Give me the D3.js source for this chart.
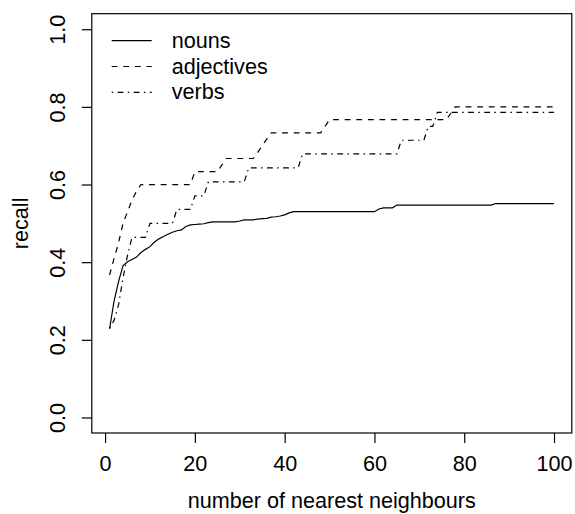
<!DOCTYPE html>
<html>
<head>
<meta charset="utf-8">
<script src="https://cdn.jsdelivr.net/npm/d3@7"></script>
<style>
  html, body { margin: 0; padding: 0; background: #fff; }
  svg { display: block; font-family: "Liberation Sans", Arial, Helvetica, sans-serif; }
</style>
</head>
<body>
<div id="chart"></div>
<script>
// recall vs number of nearest neighbours, k = 1..100
const kValues = d3.range(1, 101);

const nouns = [
  0.228, 0.300, 0.350, 0.391, 0.401, 0.407, 0.413, 0.425, 0.433, 0.440,
  0.452, 0.460, 0.466, 0.472, 0.477, 0.481, 0.483, 0.492, 0.496, 0.497,
  0.498, 0.499, 0.502, 0.504, 0.504, 0.504, 0.504, 0.504, 0.504, 0.506,
  0.509, 0.509, 0.509, 0.511, 0.512, 0.513, 0.516, 0.517, 0.519, 0.522,
  0.527, 0.530, 0.530, 0.530, 0.530, 0.530, 0.530, 0.530, 0.530, 0.530,
  0.530, 0.530, 0.530, 0.530, 0.530, 0.530, 0.530, 0.530, 0.530, 0.530,
  0.537, 0.540, 0.540, 0.540, 0.547, 0.547, 0.547, 0.547, 0.547, 0.547,
  0.547, 0.547, 0.547, 0.547, 0.547, 0.547, 0.547, 0.547, 0.547, 0.547,
  0.547, 0.547, 0.547, 0.547, 0.547, 0.547, 0.551, 0.551, 0.551, 0.551,
  0.551, 0.551, 0.551, 0.551, 0.551, 0.551, 0.551, 0.551, 0.551, 0.551
];

const adjectives = [
  0.367, 0.410, 0.450, 0.500, 0.530, 0.560, 0.583, 0.600, 0.600, 0.600,
  0.600, 0.600, 0.600, 0.600, 0.600, 0.600, 0.600, 0.600, 0.600, 0.633,
  0.633, 0.633, 0.633, 0.633, 0.633, 0.650, 0.667, 0.667, 0.667, 0.667,
  0.667, 0.667, 0.667, 0.683, 0.700, 0.717, 0.733, 0.733, 0.733, 0.733,
  0.733, 0.733, 0.733, 0.733, 0.733, 0.733, 0.733, 0.733, 0.750, 0.767,
  0.767, 0.767, 0.767, 0.767, 0.767, 0.767, 0.767, 0.767, 0.767, 0.767,
  0.767, 0.767, 0.767, 0.767, 0.767, 0.767, 0.767, 0.767, 0.767, 0.767,
  0.767, 0.767, 0.767, 0.767, 0.767, 0.767, 0.783, 0.800, 0.800, 0.800,
  0.800, 0.800, 0.800, 0.800, 0.800, 0.800, 0.800, 0.800, 0.800, 0.800,
  0.800, 0.800, 0.800, 0.800, 0.800, 0.800, 0.800, 0.800, 0.800, 0.800
];

const verbs = [
  0.230, 0.250, 0.290, 0.360, 0.418, 0.464, 0.464, 0.464, 0.464, 0.500,
  0.500, 0.500, 0.500, 0.500, 0.500, 0.536, 0.536, 0.536, 0.536, 0.571,
  0.571, 0.571, 0.607, 0.607, 0.607, 0.607, 0.607, 0.607, 0.607, 0.607,
  0.607, 0.643, 0.643, 0.643, 0.643, 0.643, 0.643, 0.643, 0.643, 0.643,
  0.643, 0.643, 0.643, 0.679, 0.679, 0.679, 0.679, 0.679, 0.679, 0.679,
  0.679, 0.679, 0.679, 0.679, 0.679, 0.679, 0.679, 0.679, 0.679, 0.679,
  0.679, 0.679, 0.679, 0.679, 0.679, 0.714, 0.714, 0.714, 0.714, 0.714,
  0.714, 0.750, 0.750, 0.786, 0.786, 0.786, 0.786, 0.786, 0.786, 0.786,
  0.786, 0.786, 0.786, 0.786, 0.786, 0.786, 0.786, 0.786, 0.786, 0.786,
  0.786, 0.786, 0.786, 0.786, 0.786, 0.786, 0.786, 0.786, 0.786, 0.786
];

const seriesNames = ["nouns", "adjectives", "verbs"];
const xTicks = [0, 20, 40, 60, 80, 100];
const yTicks = [0, 0.2, 0.4, 0.6, 0.8, 1.0];

const width = 575, height = 514;
const plot = { left: 91.8, right: 571.8, top: 13.7, bottom: 433 };
const fontSize = 21.6;

// R style: extend the data range by 4% on each side
const x = d3.scaleLinear().domain([1 - 0.04 * 99, 100 + 0.04 * 99]).range([plot.left, plot.right]);
const y = d3.scaleLinear().domain([-0.04, 1.04]).range([plot.bottom, plot.top]);

const dashes = { nouns: null, adjectives: "5.8,5.8", verbs: "1.5,4.4,5.8,4.4" };
const dataOf = { nouns: nouns, adjectives: adjectives, verbs: verbs };

const svg = d3.select("#chart").append("svg")
  .attr("width", width)
  .attr("height", height);

// series
const line = d3.line()
  .x((d, i) => x(kValues[i]))
  .y(d => y(d));

svg.append("g")
  .selectAll("path")
  .data(seriesNames)
  .enter().append("path")
  .attr("d", s => line(dataOf[s]))
  .attr("fill", "none")
  .attr("stroke", "#000")
  .attr("stroke-width", 1.2)
  .attr("stroke-dasharray", s => dashes[s]);

// box
svg.append("rect")
  .attr("x", plot.left)
  .attr("y", plot.top)
  .attr("width", plot.right - plot.left)
  .attr("height", plot.bottom - plot.top)
  .attr("fill", "none")
  .attr("stroke", "#000")
  .attr("stroke-width", 1.2);

// x axis
const xAxis = svg.append("g")
  .attr("transform", `translate(0,${plot.bottom})`)
  .call(d3.axisBottom(x).tickValues(xTicks).tickSize(10).tickPadding(0).tickFormat(d3.format("d")));
xAxis.select(".domain").remove();
xAxis.selectAll(".tick line").attr("stroke", "#000").attr("stroke-width", 1.2);
xAxis.selectAll(".tick text")
  .attr("font-size", fontSize)
  .attr("fill", "#000")
  .attr("y", 38)
  .attr("dy", null);

// y axis
const yAxis = svg.append("g")
  .attr("transform", `translate(${plot.left},0)`)
  .call(d3.axisLeft(y).tickValues(yTicks).tickSize(10).tickFormat(d3.format(".1f")));
yAxis.select(".domain").remove();
yAxis.selectAll(".tick line").attr("stroke", "#000").attr("stroke-width", 1.2);
yAxis.selectAll(".tick text")
  .attr("font-size", fontSize)
  .attr("fill", "#000")
  .attr("x", null)
  .attr("dy", null)
  .attr("text-anchor", "middle")
  .attr("transform", `translate(${65 - plot.left},0) rotate(-90)`);

// axis titles
svg.append("text")
  .attr("x", (plot.left + plot.right) / 2)
  .attr("y", 508)
  .attr("text-anchor", "middle")
  .attr("font-size", fontSize)
  .text("number of nearest neighbours");

svg.append("text")
  .attr("transform", `translate(28,${(plot.top + plot.bottom) / 2}) rotate(-90)`)
  .attr("text-anchor", "middle")
  .attr("font-size", fontSize)
  .text("recall");

// legend (no box)
const legend = svg.append("g")
  .selectAll("g")
  .data(seriesNames)
  .enter().append("g")
  .attr("transform", (d, i) => `translate(111.7,${40.7 + i * 25.8})`);

legend.append("line")
  .attr("x1", 0).attr("x2", 40)
  .attr("stroke", "#000")
  .attr("stroke-width", 1.2)
  .attr("stroke-dasharray", s => dashes[s]);

legend.append("text")
  .attr("x", 60)
  .attr("dy", 7)
  .attr("font-size", fontSize)
  .text(d => d);
</script>
</body>
</html>
